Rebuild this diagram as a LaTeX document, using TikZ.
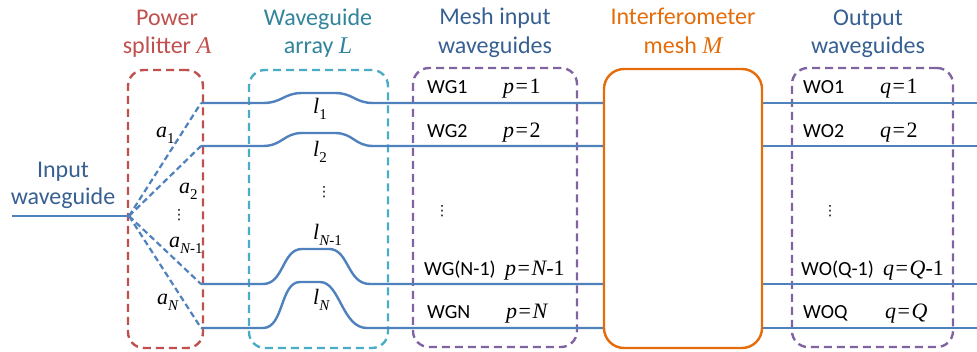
\documentclass[tikz,border=0pt]{standalone}
\usepackage{fontspec}
\setmainfont{Carlito}
\newfontfamily\tms{Liberation Serif}
\newfontfamily\dvs{DejaVu Sans}
\definecolor{wgblue}{HTML}{4F81BD}
\definecolor{ttlblue}{HTML}{376092}
\definecolor{psred}{HTML}{C0504D}
\definecolor{teal}{HTML}{4BACC6}
\definecolor{tealtxt}{HTML}{31849B}
\definecolor{purp}{HTML}{8064A2}
\definecolor{orng}{HTML}{E46C0A}
\newcommand\mi[1]{{\tms\itshape #1}}
\newcommand\mr[1]{{\tms #1}}
\newcommand\sbs[1]{\raisebox{-0.28em}{\fontsize{15}{15}\selectfont #1}}
\newcommand\eqs{\kern1.5pt\mr{=}\kern1.5pt}
\tikzset{
  ttl/.style={font=\fontsize{24}{29}\selectfont, anchor=base, inner sep=0pt},
  lbl/.style={font=\fontsize{20}{24}\selectfont, anchor=base west, inner sep=0pt, text=black},
  mlbl/.style={font=\fontsize{22}{24}\selectfont, anchor=base west, inner sep=0pt, text=black},
  vd/.style={font=\dvs\fontsize{14}{14}\selectfont, anchor=center, inner sep=0pt, text=black},
  dbox/.style={draw, line width=2.4pt, dash pattern=on 8pt off 5pt, rounded corners=16pt, minimum height=278pt, inner sep=0pt},
  wgl/.style={draw=wgblue, line width=2.4pt},
  wgd/.style={draw=wgblue, line width=2.2pt, dash pattern=on 6pt off 3.5pt},
}
\begin{document}
\begin{tikzpicture}[x=1pt,y=-1pt]
\useasboundingbox (0,0) rectangle (977,351);

% boxes
\node[dbox, draw=psred, minimum width=75pt] (PS) at (165.5,209) {};
\node[dbox, draw=teal, minimum width=139pt] (WA) at (318.5,209) {};
\node[dbox, draw=purp, minimum width=164pt, minimum height=279pt] (MI) at (495,207.5) {};
\node[draw=orng, line width=2.4pt, rounded corners=20pt, minimum width=158pt, minimum height=279pt, inner sep=0pt] (IM) at (683,208.5) {};
\node[dbox, draw=purp, minimum width=161pt, minimum height=279pt] (OW) at (872.5,207.5) {};

% titles
\node[ttl, text=ttlblue] (t1a) at (63,177) {Input};
\node[ttl, text=ttlblue] (t1b) at (63,204) {waveguide};
\node[ttl, text=psred] (t2a) at (167,25) {Power};
\node[ttl, text=psred] (t2b) at (167,53) {splitter \mi{A}};
\node[ttl, text=tealtxt] (t3a) at (318,25) {Waveguide};
\node[ttl, text=tealtxt] (t3b) at (318,53) {array \mi{L}};
\node[ttl, text=ttlblue] (t4a) at (495,24) {Mesh input};
\node[ttl, text=ttlblue] (t4b) at (495,53) {waveguides};
\node[ttl, text=orng] (t5a) at (683,24) {Interferometer};
\node[ttl, text=orng] (t5b) at (683,53) {mesh \mi{M}};
\node[ttl, text=ttlblue] (t6a) at (868,25) {Output};
\node[ttl, text=ttlblue] (t6b) at (868,53) {waveguides};

% coordinates
\coordinate (in) at (12,216);
\coordinate (sp) at (129,216);
\coordinate (s1) at (201,103);
\coordinate (s2) at (201,146);
\coordinate (s3) at (201,284);
\coordinate (s4) at (201,328);
\coordinate (e1) at (977,103);
\coordinate (e2) at (977,146);
\coordinate (e3) at (977,284);
\coordinate (e4) at (977,328);

% input and splitter
\draw[wgl] (in) -- (sp);
\draw[wgd] (sp) -- (s1);
\draw[wgd] (sp) -- (s2);
\draw[wgd] (sp) -- (s3);
\draw[wgd] (sp) -- (s4);

% waveguides with bumps
\draw[wgl] (s1) -- (263,103) .. controls (282,103) and (284,93) .. (302,93) -- (335,93) .. controls (353,93) and (355,103) .. (373,103) -- (IM.west |- s1);
\draw[wgl] (s2) -- (263,146) .. controls (282,146) and (284,133) .. (302,133) -- (335,133) .. controls (353,133) and (355,146) .. (373,146) -- (IM.west |- s2);
\draw[wgl] (s3) -- (263,284) .. controls (284,284) and (282,249) .. (302,249) -- (329,249) .. controls (349,249) and (347,284) .. (370,284) -- (IM.west |- s3);
\draw[wgl] (s4) -- (263,328) .. controls (284,328) and (280,282) .. (300,282) -- (320,282) .. controls (340,282) and (342,328) .. (367,328) -- (IM.west |- s4);

% outputs
\draw[wgl] (IM.east |- e1) -- (e1);
\draw[wgl] (IM.east |- e2) -- (e2);
\draw[wgl] (IM.east |- e3) -- (e3);
\draw[wgl] (IM.east |- e4) -- (e4);

% splitter labels
\node[mlbl] (a1) at (156,137) {\mi{a}\sbs{\mr{1}}};
\node[mlbl] (a2) at (179,193) {\mi{a}\sbs{\mr{2}}};
\node[vd] (ad) at (179,215) {⋮};
\node[mlbl] (a3) at (169,247) {\mi{a}\sbs{\mi{N}\mr{-1}}};
\node[mlbl] (a4) at (157,304) {\mi{a}\sbs{\mi{N}}};

% array labels
\node[mlbl] (l1) at (313,113) {\mi{l}\sbs{\mr{1}}};
\node[mlbl] (l2) at (313,156) {\mi{l}\sbs{\mr{2}}};
\node[vd] (ld) at (324,192) {⋮};
\node[mlbl] (l3) at (313,239) {\mi{l}\sbs{\mi{N}\mr{-1}}};
\node[mlbl] (l4) at (313,304) {\mi{l}\sbs{\mi{N}}};

% mesh input labels
\node[lbl] (wg1) at (427,93) {WG1};
\node[lbl] (wg2) at (427,137) {WG2};
\node[vd] (wgd) at (442,211) {⋮};
\node[lbl] (wg3) at (424,275) {WG(N-1)};
\node[lbl] (wg4) at (427,318) {WGN};
\node[mlbl] (p1) at (503,93) {\mi{p}\eqs\mr{1}};
\node[mlbl] (p2) at (503,137) {\mi{p}\eqs\mr{2}};
\node[mlbl] (p3) at (505,275) {\mi{p}\eqs\mi{N}\mr{-1}};
\node[mlbl] (p4) at (506,318) {\mi{p}\eqs\mi{N}};

% output labels
\node[lbl] (wo1) at (803,93) {WO1};
\node[lbl] (wo2) at (803,137) {WO2};
\node[vd] (wod) at (830,211) {⋮};
\node[lbl] (wo3) at (801,275) {WO(Q-1)};
\node[lbl] (wo4) at (803,318) {WOQ};
\node[mlbl] (q1) at (880,93) {\mi{q}\eqs\mr{1}};
\node[mlbl] (q2) at (880,137) {\mi{q}\eqs\mr{2}};
\node[mlbl] (q3) at (883,275) {\mi{q}\eqs\mi{Q}\mr{-1}};
\node[mlbl] (q4) at (885,318) {\mi{q}\eqs\mi{Q}};
\end{tikzpicture}
\end{document}
